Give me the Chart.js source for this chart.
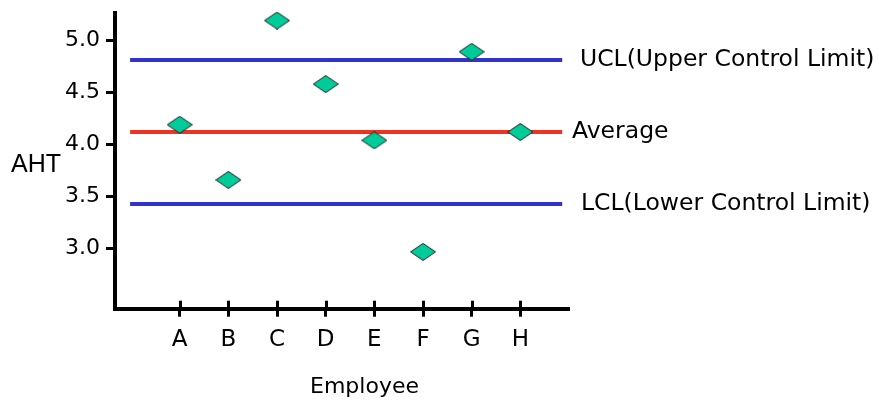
<!DOCTYPE html>
<html>
<head>
<meta charset="utf-8">
<script src="https://cdn.jsdelivr.net/npm/chart.js@4/dist/chart.umd.min.js"></script>
<style>
  html, body { margin: 0; padding: 0; background: #ffffff; }
  #wrap { width: 879px; height: 402px; }
</style>
</head>
<body>
<div id="wrap"><canvas id="c" width="879" height="402"></canvas></div>
<script>
// ---- data ----
const categories = ['A', 'B', 'C', 'D', 'E', 'F', 'G', 'H'];
const ahtValues = [4.19, 3.66, 5.19, 4.58, 4.04, 2.97, 4.89, 4.12];
const yTickValues = [3.0, 3.5, 4.0, 4.5, 5.0];
const limitNames = ['UCL(Upper Control Limit)', 'Average', 'LCL(Lower Control Limit)'];
const limitValues = [4.81, 4.12, 3.43];
const xAxisTitle = 'Employee';
const yAxisTitle = 'AHT';

// ---- styles / layout ----
const LIMIT_COLORS = ['#3333cc', '#ee3322', '#3333cc'];
const LIMIT_LABEL_X = [580, 572, 581];
const LINE_FROM = -1.02, LINE_TO = 7.86;
const X_MIN = -1.33, X_MAX = 8.0;
const Y_MIN = 2.424, Y_MAX = 5.265;
const LABEL_FONT = '23.5px "DejaVu Sans"';
const TITLE_FONT = '22px "DejaVu Sans"';

function makeDiamond() {
  const w = 26, h = 18;
  const cv = document.createElement('canvas');
  cv.width = w; cv.height = h;
  const g = cv.getContext('2d');
  g.beginPath();
  g.moveTo(w / 2, 0.5);
  g.lineTo(w - 0.5, h / 2);
  g.lineTo(w / 2, h - 0.5);
  g.lineTo(0.5, h / 2);
  g.closePath();
  g.fillStyle = '#00cc99';
  g.fill();
  g.lineWidth = 1;
  g.strokeStyle = '#222222';
  g.stroke();
  return cv;
}
const diamond = makeDiamond();

const datasets = [];
limitValues.forEach((v, i) => {
  datasets.push({
    type: 'line',
    label: limitNames[i],
    data: [{ x: LINE_FROM, y: v }, { x: LINE_TO, y: v }],
    borderColor: LIMIT_COLORS[i],
    borderWidth: 4,
    pointRadius: 0,
    fill: false,
    clip: false,
    order: 2
  });
});
datasets.push({
  type: 'scatter',
  label: yAxisTitle,
  data: ahtValues.map((v, i) => ({ x: i, y: v })),
  pointStyle: diamond,
  pointRadius: 10,
  clip: false,
  order: 1
});

const textPlugin = {
  id: 'textPlugin',
  afterDraw(chart) {
    const ctx = chart.ctx;
    const xs = chart.scales.x, ys = chart.scales.y;
    const ca = chart.chartArea;
    ctx.save();
    // inner half of x ticks (crossing the axis)
    ctx.strokeStyle = '#000';
    ctx.lineWidth = 3;
    xs.ticks.forEach(t => {
      const px = Math.round(xs.getPixelForValue(t.value)) + 0.5;
      ctx.beginPath();
      ctx.moveTo(px, ca.bottom - 8);
      ctx.lineTo(px, ca.bottom);
      ctx.stroke();
    });
    // limit labels
    ctx.fillStyle = '#000';
    ctx.font = LABEL_FONT;
    ctx.textAlign = 'left';
    ctx.textBaseline = 'alphabetic';
    limitValues.forEach((v, i) => {
      ctx.fillText(limitNames[i], LIMIT_LABEL_X[i], ys.getPixelForValue(v) + 6);
    });
    // axis titles
    ctx.font = TITLE_FONT;
    ctx.textAlign = 'center';
    ctx.fillText(xAxisTitle, 364.5, 393);
    ctx.font = '25px "Liberation Sans"';
    ctx.textAlign = 'left';
    ctx.fillText(yAxisTitle, 11, 172);
    ctx.restore();
  }
};

new Chart(document.getElementById('c'), {
  data: { datasets },
  options: {
    responsive: false,
    animation: false,
    devicePixelRatio: 1,
    layout: { autoPadding: false, padding: { left: 0, top: 12.7, right: 310, bottom: 0 } },
    plugins: { legend: { display: false }, tooltip: { enabled: false }, title: { display: false } },
    scales: {
      x: {
        type: 'linear',
        min: X_MIN,
        max: X_MAX,
        afterBuildTicks: s => { s.ticks = categories.map((c, i) => ({ value: i })); },
        afterFit: s => { s.height = 93.3; s.paddingLeft = 0; s.paddingRight = 0; },
        ticks: {
          callback: v => categories[v],
          autoSkip: false,
          maxRotation: 0,
          color: '#000',
          font: { family: 'DejaVu Sans', size: 23 },
          padding: 10
        },
        grid: { drawOnChartArea: false, drawTicks: true, tickLength: 8, tickWidth: 3, tickColor: '#000' },
        border: { display: true, color: '#000', width: 4 }
      },
      y: {
        type: 'linear',
        min: Y_MIN,
        max: Y_MAX,
        afterBuildTicks: s => { s.ticks = yTickValues.map(v => ({ value: v })); },
        afterFit: s => { s.width = 115; s.paddingTop = 0; s.paddingBottom = 0; },
        ticks: {
          callback: v => Number(v).toFixed(1),
          color: '#000',
          font: { family: 'DejaVu Sans', size: 22 },
          padding: 6
        },
        grid: { drawOnChartArea: false, drawTicks: true, tickLength: 9, tickWidth: 3, tickColor: '#000' },
        border: { display: true, color: '#000', width: 4 }
      }
    }
  },
  plugins: [textPlugin]
});
</script>
</body>
</html>
